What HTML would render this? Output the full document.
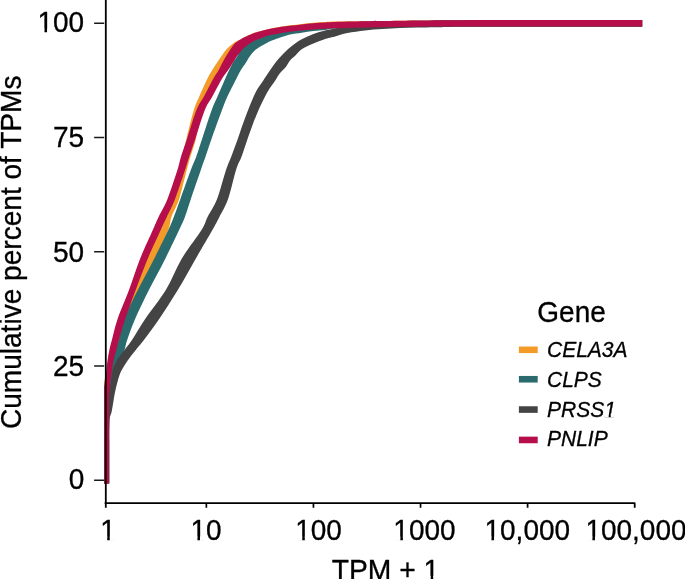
<!DOCTYPE html>
<html><head><meta charset="utf-8"><title>ECDF</title>
<style>
html,body{margin:0;padding:0;background:#fff;}
body{width:685px;height:579px;overflow:hidden;font-family:"Liberation Sans",sans-serif;}
svg{display:block;will-change:transform;}
text{font-family:"Liberation Sans",sans-serif;fill:#000;stroke:#000;stroke-width:0.3px;stroke-linejoin:round;}
.t{font-size:28px;}
.l{font-size:21px;font-style:italic;}
</style></head><body>
<svg width="685" height="579" viewBox="0 0 685 579">
<defs><clipPath id="panel"><rect x="104" y="0" width="538.2" height="503"/></clipPath></defs>
<rect width="685" height="579" fill="#fff"/>
<g clip-path="url(#panel)" stroke="none">
<path d="M102.8 483.5 C102.8 472.9 102.8 435.4 102.8 420.0 C102.8 404.6 102.7 396.7 102.8 391.0 C102.9 385.3 103.1 387.6 103.3 386.0 C103.5 384.4 103.8 383.2 104.2 381.5 C104.6 379.8 105.0 377.7 105.4 376.0 C105.8 374.3 106.3 373.7 106.7 371.1 C107.1 368.6 107.4 364.1 107.9 360.7 C108.4 357.2 109.0 353.8 109.8 350.4 C110.6 346.9 111.5 345.2 112.9 340.0 C114.4 334.8 115.3 327.5 118.5 319.2 C121.7 310.9 127.9 300.0 132.0 290.0 C136.1 280.0 138.9 269.2 142.9 259.2 C146.9 249.2 152.7 237.1 155.8 230.0 C158.9 222.9 159.3 221.8 161.7 216.7 C164.1 211.6 167.5 207.0 170.4 199.2 C173.3 191.4 177.1 177.1 179.1 170.0 C181.1 162.9 181.0 161.8 182.2 156.7 C183.4 151.6 184.4 147.0 186.3 139.2 C188.2 131.4 191.7 117.1 193.8 110.0 C196.0 102.9 197.0 101.8 199.2 96.7 C201.4 91.6 204.9 83.7 207.1 79.2 C209.3 74.8 210.4 73.1 212.3 70.0 C214.2 66.9 216.2 63.9 218.5 60.5 C220.9 57.1 223.6 52.6 226.4 49.5 C229.1 46.4 232.6 43.8 235.0 42.1 C237.4 40.4 238.6 40.3 240.5 39.4 C242.4 38.4 244.3 37.3 246.7 36.1 C249.1 35.0 252.4 33.6 255.0 32.6 C257.6 31.7 259.5 31.3 262.0 30.7 C264.5 30.0 267.3 29.3 270.1 28.7 C272.9 28.1 275.7 27.6 279.0 27.1 C282.3 26.5 286.2 25.8 290.0 25.3 C293.8 24.8 297.8 24.3 301.7 23.9 C305.6 23.5 309.5 23.1 313.4 22.8 C317.3 22.5 321.5 22.2 325.1 22.0 C328.7 21.8 328.4 21.6 335.0 21.5 C341.6 21.4 354.2 21.4 365.0 21.3 C375.8 21.2 385.8 21.0 400.0 20.8 C414.2 20.6 430.0 20.4 450.0 20.3 C470.0 20.2 486.7 20.1 520.0 20.1 C553.3 20.1 628.3 20.1 650.0 20.1 L650.0 26.6 C628.3 26.6 553.3 26.6 520.0 26.6 C486.7 26.6 470.0 26.5 450.0 26.6 C430.0 26.6 414.2 26.8 400.0 26.9 C385.8 27.0 375.8 27.2 365.0 27.4 C354.2 27.6 341.6 28.1 335.0 28.3 C328.4 28.5 328.7 28.6 325.1 28.8 C321.5 29.0 317.3 29.3 313.4 29.6 C309.5 29.9 305.6 30.1 301.7 30.5 C297.8 30.9 293.8 31.2 290.0 31.7 C286.2 32.2 282.3 32.9 279.0 33.5 C275.7 34.1 272.9 34.4 270.1 35.1 C267.3 35.8 264.5 36.9 262.0 37.8 C259.5 38.7 258.0 39.3 255.0 40.6 C252.0 41.9 247.1 44.1 244.1 45.8 C241.1 47.5 239.0 49.2 237.1 51.0 C235.1 52.8 234.0 54.6 232.5 56.5 C231.0 58.4 229.6 60.0 227.8 62.3 C226.0 64.5 223.8 67.2 221.8 70.0 C219.8 72.8 218.2 74.8 215.8 79.2 C213.4 83.7 209.9 91.6 207.6 96.7 C205.3 101.8 204.2 102.9 202.2 110.0 C200.2 117.1 197.8 131.4 195.8 139.2 C193.8 147.0 191.9 151.6 190.4 156.7 C188.9 161.8 188.6 162.9 186.7 170.0 C184.8 177.1 181.6 191.4 179.1 199.2 C176.6 207.0 173.3 211.6 171.5 216.7 C169.7 221.8 170.9 222.9 168.2 230.0 C165.5 237.1 160.4 249.2 155.5 259.2 C150.6 269.2 143.6 280.0 138.7 290.0 C133.8 300.0 129.2 310.9 126.1 319.2 C123.0 327.5 121.5 334.8 119.9 340.0 C118.4 345.2 117.8 346.9 116.8 350.4 C115.8 353.8 114.7 357.2 113.9 360.7 C113.1 364.1 112.7 367.6 112.2 371.1 C111.6 374.6 111.1 378.1 110.6 381.5 C110.1 384.9 109.7 388.7 109.4 391.8 C109.1 394.9 108.9 395.3 108.8 400.0 C108.7 404.7 108.9 406.1 108.9 420.0 C108.9 433.9 108.9 472.9 108.9 483.5 Z" fill="#F39B28"/>
<path d="M102.8 483.5 C102.8 472.9 102.7 434.8 102.8 420.0 C102.9 405.2 102.8 401.0 103.2 395.0 C103.6 389.0 104.3 387.8 105.0 384.0 C105.7 380.2 106.6 375.8 107.5 372.0 C108.4 368.2 109.3 364.6 110.5 361.0 C111.7 357.4 113.3 353.6 114.5 350.4 C115.7 347.2 117.0 343.7 117.7 342.0 C118.4 340.3 117.7 343.8 118.7 340.0 C119.7 336.2 120.7 327.5 123.9 319.2 C127.1 310.9 132.8 300.0 137.8 290.0 C142.8 280.0 148.8 269.2 153.9 259.2 C159.0 249.2 165.0 237.1 168.3 230.0 C171.6 222.9 171.9 221.8 173.9 216.7 C175.9 211.6 177.5 207.0 180.3 199.2 C183.1 191.4 188.2 177.1 190.8 170.0 C193.5 162.9 194.3 161.8 196.2 156.7 C198.1 151.6 199.4 147.0 202.0 139.2 C204.6 131.4 209.1 117.1 211.7 110.0 C214.3 102.9 215.2 101.8 217.4 96.7 C219.6 91.6 223.0 83.7 225.0 79.2 C227.0 74.8 227.8 72.9 229.2 70.0 C230.6 67.1 232.1 63.9 233.4 61.7 C234.7 59.5 235.8 58.7 237.0 56.7 C238.2 54.8 239.0 52.3 240.7 50.0 C242.4 47.7 244.6 45.0 247.0 43.0 C249.4 41.0 252.5 39.3 255.0 38.0 C257.5 36.7 259.5 35.9 262.0 35.0 C264.5 34.1 267.2 33.2 270.0 32.5 C272.8 31.8 275.7 31.2 279.0 30.5 C282.3 29.8 286.2 29.1 290.0 28.5 C293.8 27.9 297.8 27.5 301.7 27.0 C305.6 26.5 309.5 26.0 313.4 25.6 C317.3 25.2 321.5 24.9 325.1 24.5 C328.7 24.1 328.4 24.0 335.0 23.5 C341.6 23.0 354.2 21.9 365.0 21.5 C375.8 21.1 385.8 21.1 400.0 20.9 C414.2 20.7 430.0 20.5 450.0 20.4 C470.0 20.3 486.7 20.2 520.0 20.2 C553.3 20.2 628.3 20.2 650.0 20.2 L650.0 26.5 C628.3 26.5 553.3 26.5 520.0 26.5 C486.7 26.5 470.0 26.4 450.0 26.5 C430.0 26.6 414.2 26.8 400.0 26.9 C385.8 27.0 375.8 27.1 365.0 27.4 C354.2 27.7 341.6 28.2 335.0 28.6 C328.4 29.0 328.7 29.5 325.1 29.9 C321.5 30.3 317.3 30.6 313.4 31.1 C309.5 31.6 305.6 32.2 301.7 32.8 C297.8 33.4 293.8 33.7 290.0 34.6 C286.2 35.5 282.3 36.9 279.0 38.0 C275.7 39.1 272.2 40.4 270.1 41.3 C268.1 42.1 268.6 42.0 266.7 43.1 C264.8 44.2 260.6 46.4 258.4 47.8 C256.2 49.2 255.2 50.0 253.7 51.5 C252.2 53.0 250.8 54.9 249.5 56.7 C248.2 58.5 247.4 60.3 246.0 62.5 C244.6 64.7 242.6 67.2 240.9 70.0 C239.2 72.8 238.4 74.8 236.1 79.2 C233.8 83.7 229.7 91.6 227.3 96.7 C225.0 101.8 224.7 102.9 222.0 110.0 C219.3 117.1 214.2 131.4 211.4 139.2 C208.7 147.0 207.3 151.6 205.5 156.7 C203.7 161.8 203.2 162.9 200.8 170.0 C198.4 177.1 193.4 191.4 190.8 199.2 C188.2 207.0 186.9 211.6 185.0 216.7 C183.1 221.8 182.4 222.9 179.1 230.0 C175.8 237.1 170.0 249.2 165.0 259.2 C160.0 269.2 153.9 280.0 148.9 290.0 C143.9 300.0 138.6 310.9 135.0 319.2 C131.4 327.5 129.0 334.8 127.2 340.0 C125.4 345.2 125.7 346.9 124.4 350.4 C123.1 353.8 120.9 357.3 119.5 360.7 C118.1 364.1 117.1 367.6 116.0 371.0 C114.9 374.4 113.9 377.7 113.0 381.0 C112.1 384.3 111.1 387.8 110.5 391.0 C109.9 394.2 109.5 395.2 109.3 400.0 C109.0 404.8 109.1 406.1 109.0 420.0 C108.9 433.9 108.9 472.9 108.9 483.5 Z" fill="#2B6B6D"/>
<path d="M102.8 483.5 C102.8 476.2 102.8 449.8 102.8 440.0 C102.8 430.2 102.8 429.7 103.0 425.0 C103.2 420.3 103.5 416.0 104.0 412.0 C104.5 408.0 105.3 404.4 106.0 401.0 C106.7 397.6 107.2 395.1 108.0 391.8 C108.8 388.6 110.2 384.9 110.9 381.5 C111.6 378.1 111.5 374.6 112.4 371.1 C113.4 367.6 114.6 364.1 116.6 360.7 C118.6 357.2 121.6 353.8 124.2 350.4 C126.8 346.9 128.5 345.2 132.0 340.0 C135.5 334.8 139.4 327.5 145.0 319.2 C150.6 310.9 159.7 300.0 165.8 290.0 C171.9 280.0 175.5 269.2 181.4 259.2 C187.3 249.2 197.1 237.1 201.5 230.0 C205.9 222.9 205.1 221.8 207.7 216.7 C210.3 211.6 213.9 207.0 217.0 199.2 C220.1 191.4 223.6 177.1 226.0 170.0 C228.4 162.9 229.3 161.7 231.2 156.7 C233.1 151.7 235.6 145.0 237.4 140.0 C239.2 135.0 240.1 131.8 241.9 126.7 C243.7 121.6 246.1 115.0 248.4 109.2 C250.7 103.4 253.4 96.6 255.9 91.7 C258.4 86.8 261.7 83.0 263.6 80.0 C265.5 77.0 266.0 76.2 267.5 74.0 C269.0 71.8 270.7 69.2 272.5 66.7 C274.3 64.2 276.5 61.4 278.4 59.1 C280.3 56.8 282.1 55.0 284.0 53.0 C285.9 51.0 287.1 49.7 290.0 47.4 C292.9 45.1 297.8 41.5 301.7 39.3 C305.6 37.1 309.5 35.5 313.4 34.0 C317.3 32.5 321.5 31.4 325.1 30.5 C328.7 29.6 331.3 29.3 335.0 28.6 C338.7 27.9 342.5 27.2 347.5 26.5 C352.5 25.8 356.2 25.2 365.0 24.5 C373.8 23.8 385.8 22.6 400.0 22.0 C414.2 21.4 430.0 20.9 450.0 20.6 C470.0 20.3 486.7 20.1 520.0 20.0 C553.3 19.9 628.3 20.0 650.0 20.0 L650.0 26.8 C628.3 26.8 548.3 26.7 520.0 26.8 C491.7 26.8 491.7 26.8 480.0 26.8 C468.3 26.8 457.5 26.9 450.0 26.9 C442.5 27.0 440.4 27.1 435.0 27.2 C429.6 27.3 423.4 27.5 417.6 27.6 C411.8 27.8 405.8 27.9 400.0 28.1 C394.2 28.3 388.4 28.6 382.6 29.0 C376.8 29.4 370.9 29.7 365.0 30.4 C359.1 31.1 352.5 32.0 347.5 33.0 C342.5 34.0 337.8 35.7 335.0 36.4 C332.2 37.1 332.6 37.0 331.0 37.4 C329.4 37.8 328.0 37.9 325.1 38.9 C322.2 39.9 317.3 41.7 313.4 43.4 C309.5 45.1 304.6 47.3 301.7 49.2 C298.8 51.1 297.8 53.1 295.9 55.0 C293.9 56.9 291.6 58.5 290.0 60.5 C288.4 62.5 287.8 64.5 286.0 66.7 C284.2 68.9 281.2 71.5 279.5 73.7 C277.8 75.9 277.6 77.0 275.6 80.0 C273.6 83.0 270.4 86.8 267.6 91.7 C264.8 96.6 261.5 103.4 258.9 109.2 C256.3 115.0 253.8 121.6 251.9 126.7 C250.0 131.8 248.9 135.0 247.2 140.0 C245.5 145.0 243.4 151.7 241.5 156.7 C239.6 161.7 238.2 162.9 236.0 170.0 C233.8 177.1 230.8 191.4 228.0 199.2 C225.2 207.0 222.1 211.6 219.5 216.7 C216.9 221.8 216.4 222.9 212.4 230.0 C208.4 237.1 201.2 249.2 195.4 259.2 C189.6 269.2 183.9 280.0 177.8 290.0 C171.7 300.0 164.7 310.9 159.0 319.2 C153.3 327.5 147.8 334.8 143.9 340.0 C140.0 345.2 138.1 346.9 135.4 350.4 C132.7 353.8 129.9 357.2 127.5 360.7 C125.1 364.1 122.9 367.6 121.2 371.1 C119.5 374.6 118.6 378.1 117.6 381.5 C116.6 384.9 115.8 388.6 115.1 391.8 C114.4 395.1 114.1 397.6 113.5 401.0 C112.9 404.4 112.2 409.3 111.6 412.0 C111.0 414.7 110.3 414.8 110.0 417.0 C109.7 419.2 109.7 421.2 109.6 425.0 C109.5 428.8 109.5 430.2 109.5 440.0 C109.5 449.8 109.5 476.2 109.5 483.5 Z" fill="#444444"/>
<path d="M102.8 483.5 C102.8 472.9 102.8 434.6 102.8 420.0 C102.8 405.4 102.7 401.2 102.8 396.0 C102.9 390.8 103.2 391.0 103.5 389.0 C103.8 387.0 104.3 386.0 104.6 384.0 C104.9 382.0 105.2 379.1 105.5 377.0 C105.8 374.9 106.1 373.8 106.4 371.1 C106.7 368.4 107.0 364.1 107.5 360.7 C108.0 357.2 108.6 353.8 109.3 350.4 C110.0 346.9 110.5 345.2 111.9 340.0 C113.3 334.8 114.7 327.5 117.5 319.2 C120.3 310.9 125.3 300.0 129.0 290.0 C132.7 280.0 135.9 269.2 139.9 259.2 C143.9 249.2 149.7 237.1 152.8 230.0 C155.9 222.9 156.3 221.8 158.7 216.7 C161.1 211.6 164.3 207.0 167.4 199.2 C170.5 191.4 175.1 177.1 177.4 170.0 C179.7 162.9 179.4 161.8 181.0 156.7 C182.6 151.6 184.3 147.0 186.9 139.2 C189.5 131.4 193.6 117.1 196.4 110.0 C199.2 102.9 201.0 101.8 203.8 96.7 C206.6 91.6 210.5 83.7 213.0 79.2 C215.5 74.8 216.9 73.1 218.7 70.0 C220.5 66.9 221.7 63.9 223.6 60.5 C225.5 57.1 228.4 52.4 230.3 49.5 C232.2 46.6 233.3 45.0 235.0 43.3 C236.7 41.6 238.6 40.7 240.5 39.5 C242.4 38.3 244.3 37.4 246.7 36.3 C249.1 35.2 252.4 33.7 255.0 32.8 C257.6 31.9 259.5 31.5 262.0 30.8 C264.5 30.1 267.3 29.4 270.1 28.8 C272.9 28.2 275.7 27.7 279.0 27.2 C282.3 26.7 286.2 26.3 290.0 25.8 C293.8 25.3 297.8 24.8 301.7 24.4 C305.6 24.0 309.5 23.6 313.4 23.3 C317.3 23.0 321.5 22.7 325.1 22.5 C328.7 22.3 328.4 22.2 335.0 22.0 C341.6 21.8 354.2 21.5 365.0 21.3 C375.8 21.1 385.8 21.0 400.0 20.8 C414.2 20.6 430.0 20.4 450.0 20.3 C470.0 20.2 486.7 20.1 520.0 20.1 C553.3 20.1 628.3 20.1 650.0 20.1 L650.0 26.6 C628.3 26.6 553.3 26.6 520.0 26.6 C486.7 26.6 470.0 26.5 450.0 26.6 C430.0 26.6 414.2 26.8 400.0 26.9 C385.8 27.0 375.8 27.2 365.0 27.4 C354.2 27.6 341.6 28.1 335.0 28.3 C328.4 28.5 328.7 28.6 325.1 28.8 C321.5 29.0 317.3 29.3 313.4 29.6 C309.5 29.9 305.6 30.1 301.7 30.5 C297.8 30.9 293.8 31.2 290.0 31.7 C286.2 32.2 282.3 32.9 279.0 33.5 C275.7 34.1 272.9 34.4 270.1 35.1 C267.3 35.8 264.5 36.9 262.0 37.8 C259.5 38.7 257.6 39.3 255.0 40.6 C252.4 41.9 249.0 44.1 246.7 45.8 C244.4 47.5 242.8 49.2 241.2 51.0 C239.5 52.8 238.1 54.6 236.8 56.5 C235.5 58.4 234.6 60.0 233.2 62.3 C231.8 64.5 230.1 67.2 228.2 70.0 C226.3 72.8 224.4 74.8 221.7 79.2 C219.0 83.7 215.0 91.6 212.2 96.7 C209.4 101.8 207.6 102.9 204.8 110.0 C202.0 117.1 197.8 131.4 195.2 139.2 C192.6 147.0 190.9 151.6 189.2 156.7 C187.5 161.8 187.4 162.9 185.0 170.0 C182.6 177.1 178.0 191.4 175.0 199.2 C172.0 207.0 169.3 211.6 166.9 216.7 C164.5 221.8 163.9 222.9 160.7 230.0 C157.5 237.1 151.7 249.2 147.5 259.2 C143.3 269.2 139.4 280.0 135.7 290.0 C132.0 300.0 127.9 310.9 125.1 319.2 C122.3 327.5 120.4 334.8 118.9 340.0 C117.4 345.2 117.2 346.9 116.3 350.4 C115.4 353.8 114.2 357.2 113.5 360.7 C112.8 364.1 112.4 367.6 111.9 371.1 C111.4 374.6 110.8 378.1 110.4 381.5 C110.0 384.9 109.6 388.7 109.3 391.8 C109.0 394.9 108.9 395.3 108.8 400.0 C108.7 404.7 108.9 406.1 108.9 420.0 C108.9 433.9 108.9 472.9 108.9 483.5 Z" fill="#B60E4A"/>
</g>
<g stroke="#000" stroke-width="1.7" fill="none" stroke-linejoin="round">
<path d="M105.8 0V507.8M104.6 503.2H634.7V507.8" stroke-width="1.8"/>
<path d="M94.1 23.3H104.2M94.1 137.5H104.2M94.1 251.75H104.2M94.1 366H104.2M94.1 480.2H104.2" stroke="#1a1a1a" stroke-width="1.6"/>
<path d="M206.35 503V507.8M313.45 503V507.8M420.55 503V507.8M527.6 503V507.8"/>
</g>
<text class="t" transform="translate(37.48 32.40) scale(1 1.04)">100</text>
<text class="t" transform="translate(53.06 147.00) scale(1 1.04)">75</text>
<text class="t" transform="translate(53.06 261.60) scale(1 1.04)">50</text>
<text class="t" transform="translate(53.06 376.10) scale(1 1.04)">25</text>
<text class="t" transform="translate(68.63 489.10) scale(1 1.04)">0</text>
<text class="t" transform="translate(100.21 540.20) scale(1 1.04)">1</text>
<text class="t" transform="translate(190.43 540.20) scale(1 1.04)">10</text>
<text class="t" transform="translate(295.24 540.20) scale(1 1.04)">100</text>
<text class="t" transform="translate(393.36 540.20) scale(1 1.04)">1000</text>
<text class="t" transform="translate(484.48 540.20) scale(1 1.04)">10,000</text>
<text class="t" transform="translate(585.39 540.20) scale(1 1.04)">100,000</text>
<text class="t" transform="translate(331.67 579.50) scale(1.01 1.05)">TPM + 1</text>
<text class="t" text-anchor="middle" transform="translate(21.3 252.3) rotate(-90) scale(1.003 1.05)">Cumulative percent of TPMs</text>
<text class="t" transform="translate(537.30 321.80) scale(1 1.045)">Gene</text>
<text class="l" transform="translate(547.00 356.80) scale(1 1.04)">CELA3A</text>
<text class="l" transform="translate(547.00 386.90) scale(1 1.04)">CLPS</text>
<text class="l" transform="translate(547.00 416.80) scale(1 1.04)">PRSS1</text>
<text class="l" transform="translate(547.00 446.40) scale(1 1.04)">PNLIP</text>
<g><rect x="38.85" y="28.72" width="5.63" height="4.38" fill="#fff"/><rect x="47.04" y="28.72" width="5.35" height="4.38" fill="#fff"/><rect x="101.58" y="536.52" width="5.63" height="4.38" fill="#fff"/><rect x="109.77" y="536.52" width="5.35" height="4.38" fill="#fff"/><rect x="191.79" y="536.52" width="5.63" height="4.38" fill="#fff"/><rect x="199.98" y="536.52" width="5.35" height="4.38" fill="#fff"/><rect x="296.61" y="536.52" width="5.63" height="4.38" fill="#fff"/><rect x="304.80" y="536.52" width="5.35" height="4.38" fill="#fff"/><rect x="394.72" y="536.52" width="5.63" height="4.38" fill="#fff"/><rect x="402.91" y="536.52" width="5.35" height="4.38" fill="#fff"/><rect x="485.85" y="536.52" width="5.63" height="4.38" fill="#fff"/><rect x="494.04" y="536.52" width="5.35" height="4.38" fill="#fff"/><rect x="586.76" y="536.52" width="5.63" height="4.38" fill="#fff"/><rect x="594.95" y="536.52" width="5.35" height="4.38" fill="#fff"/><rect x="424.98" y="575.80" width="5.69" height="4.40" fill="#fff"/><rect x="433.25" y="575.80" width="5.40" height="4.40" fill="#fff"/><rect x="604.29" y="413.87" width="4.37" height="3.53" fill="#fff"/><rect x="610.75" y="413.87" width="4.10" height="3.53" fill="#fff"/></g>
<g>
<rect x="518.9" y="346.5" width="18.8" height="6.6" fill="#F39B28"/>
<rect x="518.9" y="375.95" width="18.8" height="6.6" fill="#2B6B6D"/>
<rect x="518.9" y="406.25" width="18.8" height="6.6" fill="#444444"/>
<rect x="518.9" y="436.65" width="18.8" height="6.6" fill="#B60E4A"/>
</g>
</svg>
</body></html>
